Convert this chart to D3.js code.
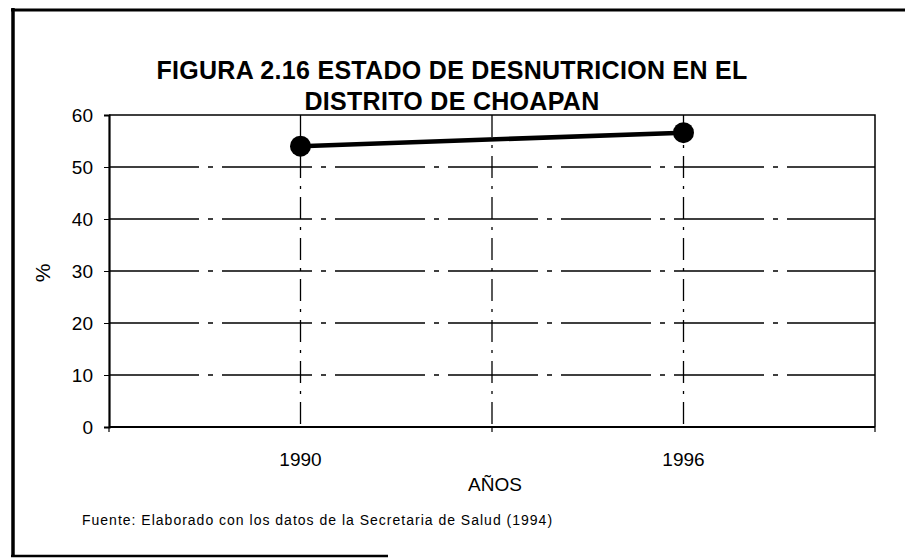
<!DOCTYPE html>
<html>
<head>
<meta charset="utf-8">
<script src="https://cdn.jsdelivr.net/npm/d3@7"></script>
<style>
    body { margin: 0; background: #fff; }
    text { font-family: "Liberation Sans", Arial, sans-serif; fill: #000; }
</style>
</head>
<body>
<div id="chart"></div>
<script>
// data
var years = ["1990", "1996"];
var values = [54.0, 56.6];
var yTicks = [0, 10, 20, 30, 40, 50, 60];
var titleLines = ["FIGURA 2.16 ESTADO DE DESNUTRICION EN EL", "DISTRITO DE CHOAPAN"];
var xTitle = "AÑOS";
var yTitle = "%";
var source = "Fuente: Elaborado con los datos de la Secretaria de Salud (1994)";

var data = years.map(function(y, i){ return {year: y, value: values[i]}; });

var width = 905, height = 558;
var margin = {top: 115, right: 30, bottom: 131, left: 109};
var plotW = width - margin.left - margin.right;
var plotH = height - margin.top - margin.bottom;

var svg = d3.select("#chart").append("svg")
    .attr("width", width)
    .attr("height", height);

// page frame (left, top, partial bottom)
svg.append("line").attr("x1", 13).attr("y1", 8).attr("x2", 13).attr("y2", 557)
    .attr("stroke", "#000").attr("stroke-width", 3.5);
svg.append("line").attr("x1", 11).attr("y1", 10).attr("x2", 905).attr("y2", 10)
    .attr("stroke", "#000").attr("stroke-width", 3);
svg.append("line").attr("x1", 11).attr("y1", 556).attr("x2", 388).attr("y2", 556)
    .attr("stroke", "#000").attr("stroke-width", 2.5);

// title
svg.selectAll(".title")
    .data(titleLines)
    .enter().append("text")
    .attr("class", "title")
    .attr("x", 452)
    .attr("y", function(d, i){ return 79 + i * 31; })
    .attr("text-anchor", "middle")
    .style("font-size", "25px")
    .style("font-weight", "bold")
    .style("letter-spacing", "0.3px")
    .text(function(d){ return d; });

var g = svg.append("g")
    .attr("transform", "translate(" + margin.left + "," + margin.top + ")");

var x = d3.scaleBand()
    .domain(years)
    .range([0, plotW])
    .padding(0);

var y = d3.scaleLinear()
    .domain([0, 60])
    .range([plotH, 0]);

// horizontal gridlines
g.selectAll(".hgrid")
    .data(yTicks.filter(function(d){ return d > 0 && d < 60; }))
    .enter().append("line")
    .attr("class", "hgrid")
    .attr("x1", 0).attr("x2", plotW)
    .attr("y1", function(d){ return y(d); })
    .attr("y2", function(d){ return y(d); })
    .attr("stroke", "#000")
    .attr("stroke-width", 1.5)
    .attr("stroke-dasharray", "90,9,5,9");

// vertical gridlines: category centres and the inner boundary
var vLines = years.map(function(d){ return x(d) + x.bandwidth() / 2; })
    .concat(years.slice(1).map(function(d){ return x(d); }));
g.selectAll(".vgrid")
    .data(vLines)
    .enter().append("line")
    .attr("class", "vgrid")
    .attr("x1", function(d){ return d; })
    .attr("x2", function(d){ return d; })
    .attr("y1", 0).attr("y2", plotH)
    .attr("stroke", "#000")
    .attr("stroke-width", 1.3)
    .attr("stroke-dasharray", "22,8,3,8");

// plot border top/right
g.append("path")
    .attr("d", "M0,0H" + plotW + "V" + plotH)
    .attr("fill", "none")
    .attr("stroke", "#000")
    .attr("stroke-width", 1.5);

// y axis
var yAxis = d3.axisLeft(y)
    .tickValues(yTicks)
    .tickSize(5)
    .tickPadding(11);
var ya = g.append("g").attr("class", "y-axis").call(yAxis);
ya.select(".domain").attr("stroke-width", 2.2);
ya.selectAll("text").style("font-size", "19px").style("font-family", "'Liberation Sans', Arial, sans-serif");

// x axis: ticks at category boundaries, labels centred on categories
var xa = g.append("g")
    .attr("class", "x-axis")
    .attr("transform", "translate(0," + plotH + ")");
xa.append("line").attr("x1", 0).attr("x2", plotW)
    .attr("stroke", "#000").attr("stroke-width", 2.2);
xa.selectAll(".xtick")
    .data([0].concat(years.map(function(d){ return x(d) + x.bandwidth(); })))
    .enter().append("line")
    .attr("class", "xtick")
    .attr("x1", function(d){ return d; })
    .attr("x2", function(d){ return d; })
    .attr("y1", 0).attr("y2", 5)
    .attr("stroke", "#000").attr("stroke-width", 1.2);
xa.selectAll(".xlabel")
    .data(years)
    .enter().append("text")
    .attr("class", "xlabel")
    .attr("x", function(d){ return x(d) + x.bandwidth() / 2; })
    .attr("y", 39)
    .attr("text-anchor", "middle")
    .style("font-size", "19px")
    .text(function(d){ return d; });

// axis titles
svg.append("text")
    .attr("x", 495)
    .attr("y", 491)
    .attr("text-anchor", "middle")
    .style("font-size", "19px")
    .text(xTitle);

svg.append("text")
    .attr("transform", "translate(50,273) rotate(-90)")
    .attr("text-anchor", "middle")
    .style("font-size", "21px")
    .text(yTitle);

// series
var line = d3.line()
    .x(function(d){ return x(d.year) + x.bandwidth() / 2; })
    .y(function(d){ return y(d.value); });

g.append("path")
    .datum(data)
    .attr("d", line)
    .attr("fill", "none")
    .attr("stroke", "#000")
    .attr("stroke-width", 4.5);

g.selectAll(".dot")
    .data(data)
    .enter().append("circle")
    .attr("class", "dot")
    .attr("cx", function(d){ return x(d.year) + x.bandwidth() / 2; })
    .attr("cy", function(d){ return y(d.value); })
    .attr("r", 10.5)
    .attr("fill", "#000");

// source note
svg.append("text")
    .attr("x", 82)
    .attr("y", 525)
    .style("font-size", "14px")
    .style("letter-spacing", "1px")
    .text(source);
</script>
</body>
</html>
